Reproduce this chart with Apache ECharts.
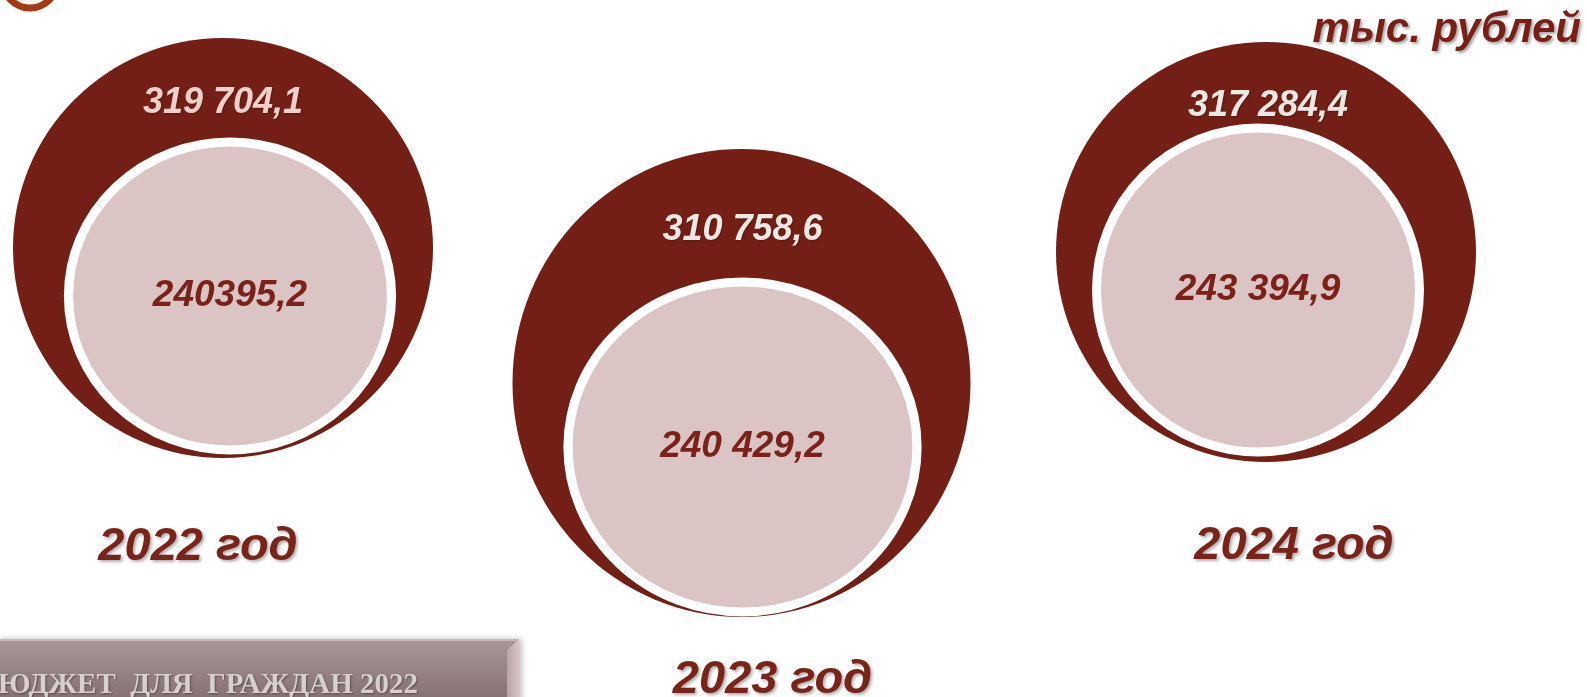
<!DOCTYPE html>
<html>
<head>
<meta charset="utf-8">
<style>
html,body{margin:0;padding:0;background:#fff;}
#chart{width:1587px;height:697px;}
</style>
<script src="https://cdn.jsdelivr.net/npm/echarts@6/dist/echarts.min.js"></script>
</head>
<body>
<div id="chart"></div>
<script>
// ---- data ----
const years = ['2022', '2023', '2024'];
const totalValues = [319704.1, 310758.6, 317284.4];
const innerValues = [240395.2, 240429.2, 243394.9];
const innerGrouped = [false, true, true];   // how the source prints the inner numbers
const unitText = 'тыс. рублей';
const yearSuffix = ' год';
const bannerText = 'БЮДЖЕТ  ДЛЯ  ГРАЖДАН 2022';

// ---- layout / style (not data) ----
const outerSize = [[420, 420], [458, 468], [420, 420]];
const outerShift = [[0, -2], [-3, 133], [0, 2]];
const outerLabelShift = [[0, -145], [1, -153], [2, -146]];
const outerLabelColor = ['#F2CFC9', '#EEE8E3', '#EEE8E3'];
const innerSize = [[323, 308], [349, 330], [323, 324]];
const innerShift = [[7, 46], [-2, 197], [-8, 40]];
const yearShift = [[-25, 297], [28, 430], [28, 296]];

function fmt(v, grouped) {
  const parts = v.toFixed(1).split('.');
  let int = parts[0];
  if (grouped) int = int.replace(/\B(?=(\d{3})+(?!\d))/g, ' ');
  return int + ',' + parts[1];
}

const font = {fontFamily: 'Liberation Sans, Arial, sans-serif', fontStyle: 'italic', fontWeight: 'bold'};

const chart = echarts.init(document.getElementById('chart'));
chart.setOption({
  animation: false,
  backgroundColor: '#ffffff',
  grid: {left: 223, right: 321, top: 0, bottom: 197},
  xAxis: {type: 'category', data: years, boundaryGap: false, show: false},
  yAxis: {type: 'value', min: -1, max: 1, show: false},
  graphic: [
    {type: 'circle', shape: {cx: 30, cy: -19, r: 27}, style: {fill: '#FBF4F1', stroke: '#A33A12', lineWidth: 7}, z: 1},
    {type: 'rect', shape: {x: -5, y: 639, width: 524, height: 70},
      style: {fill: new echarts.graphic.LinearGradient(0, 0, 0, 1, [
        {offset: 0, color: '#AA9798'}, {offset: 1, color: '#7F6B6D'}]),
        shadowBlur: 6, shadowColor: 'rgba(0,0,0,0.25)', shadowOffsetX: 3}, z: 1},
    {type: 'polygon', shape: {points: [[507, 650], [519, 639], [519, 709], [507, 709]]},
      style: {fill: new echarts.graphic.LinearGradient(0, 0, 1, 0, [
        {offset: 0, color: '#B9A4A6'}, {offset: 1, color: '#D6C5C6'}])}, z: 2},
    {type: 'rect', shape: {x: -5, y: 639, width: 524, height: 2}, style: {fill: '#C9B8B9'}, z: 2},
    {type: 'text', x: 418, y: 686, z: 5,
      style: {text: bannerText, fill: '#D7D1CE', fontSize: 29, fontWeight: 'bold',
        fontFamily: 'Liberation Serif, Times New Roman, serif',
        align: 'right', verticalAlign: 'middle',
        textShadowColor: 'rgba(60,40,40,0.6)', textShadowBlur: 2, textShadowOffsetX: 1, textShadowOffsetY: 1}},
    {type: 'text', x: 1581, y: 30, z: 5,
      style: {text: unitText, fill: '#7A1F16', fontSize: 42, fontWeight: 'bold', fontStyle: 'italic',
        fontFamily: 'Liberation Sans, Arial, sans-serif',
        align: 'right', verticalAlign: 'middle',
        textShadowColor: 'rgba(0,0,0,0.35)', textShadowBlur: 3, textShadowOffsetX: 2, textShadowOffsetY: 2}}
  ],
  series: [
    {
      type: 'scatter', name: 'total', z: 2, silent: true,
      data: years.map((y, i) => ({
        name: y, value: [y, 0, totalValues[i]],
        symbolSize: outerSize[i], symbolOffset: outerShift[i],
        label: {offset: outerLabelShift[i], color: outerLabelColor[i]}
      })),
      symbol: 'circle',
      itemStyle: {color: '#731F16', opacity: 1},
      label: Object.assign({show: true, position: 'inside', fontSize: 36,
        formatter: p => fmt(p.value[2], true),
        textShadowColor: 'rgba(0,0,0,0.25)', textShadowBlur: 2, textShadowOffsetX: 1, textShadowOffsetY: 1}, font)
    },
    {
      type: 'scatter', name: 'inner', z: 3, silent: true,
      data: years.map((y, i) => ({
        name: y, value: [y, 0, innerValues[i]],
        symbolSize: innerSize[i], symbolOffset: innerShift[i],
        label: {formatter: fmt(innerValues[i], innerGrouped[i])}
      })),
      symbol: 'circle',
      itemStyle: {color: '#DAC5C4', borderColor: '#ffffff', borderWidth: 9, opacity: 1},
      label: Object.assign({show: true, position: 'inside', fontSize: 37, color: '#7A2219'}, font)
    },
    {
      type: 'scatter', name: 'years', z: 4, silent: true,
      data: years.map((y, i) => ({
        name: y, value: [y, 0], symbolOffset: yearShift[i]
      })),
      symbolSize: 1,
      itemStyle: {color: 'rgba(0,0,0,0)', opacity: 1},
      label: Object.assign({show: true, position: 'inside', fontSize: 47, color: '#7A2318',
        formatter: p => p.name + yearSuffix,
        textShadowColor: 'rgba(0,0,0,0.3)', textShadowBlur: 3, textShadowOffsetX: 2, textShadowOffsetY: 2}, font)
    }
  ]
});
</script>
</body>
</html>
